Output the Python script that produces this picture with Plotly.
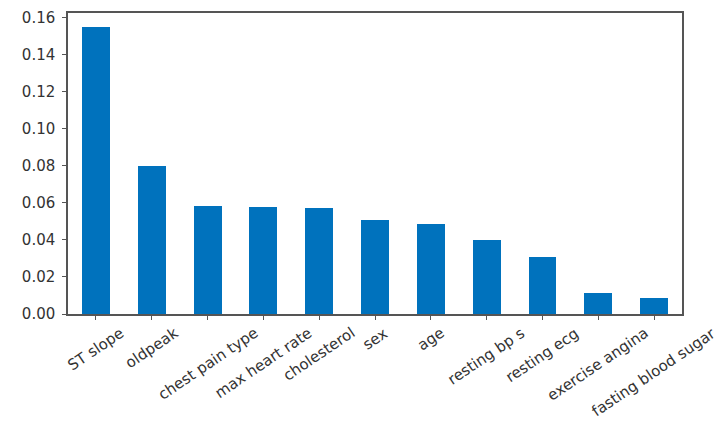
import plotly.graph_objects as go

# feature importances
features = ["ST slope", "oldpeak", "chest pain type", "max heart rate", "cholesterol",
            "sex", "age", "resting bp s", "resting ecg", "exercise angina",
            "fasting blood sugar"]
importance = [0.1546, 0.0797, 0.0583, 0.0578, 0.0569, 0.0507, 0.0486, 0.0401,
              0.0305, 0.0112, 0.0086]
y_ticks = [0.00, 0.02, 0.04, 0.06, 0.08, 0.10, 0.12, 0.14, 0.16]

xs = list(range(len(features)))

fig = go.Figure(go.Bar(x=xs, y=importance, width=0.5,
                       marker=dict(color="#0072bd", line=dict(width=0))))

# category labels centred under ticks, rotated (like rot=45 in pandas)
for x, name in zip(xs, features):
    fig.add_annotation(x=x, y=0, yref="paper", text=name, showarrow=False,
                       textangle=-34, xanchor="center", yanchor="top", yshift=-7,
                       font=dict(family="DejaVu Sans", size=15, color="#333333"))

fig.update_layout(
    width=726, height=442,
    margin=dict(l=60, r=52, t=5, b=136, autoexpand=False),
    plot_bgcolor="white", paper_bgcolor="white",
    font=dict(family="DejaVu Sans", size=15, color="#333333"),
    showlegend=False,
    bargap=0,
)
fig.update_xaxes(
    range=[-0.5, 10.5], tickmode="array", tickvals=xs, showticklabels=False,
    showgrid=False, zeroline=False,
    showline=True, linecolor="#555555", linewidth=1.5, mirror=True,
    ticks="outside", ticklen=4, tickcolor="#555555", automargin=False,
)
fig.update_yaxes(
    range=[0, 0.1623], tickmode="array", tickvals=y_ticks,
    ticktext=[f"{v:.2f}" for v in y_ticks], showgrid=False, zeroline=False,
    showline=True, linecolor="#555555", linewidth=1.5, mirror=True,
    ticks="outside", ticklen=4, tickcolor="#555555", automargin=False,
    ticklabelstandoff=4,
)

fig.write_html("out.html")
